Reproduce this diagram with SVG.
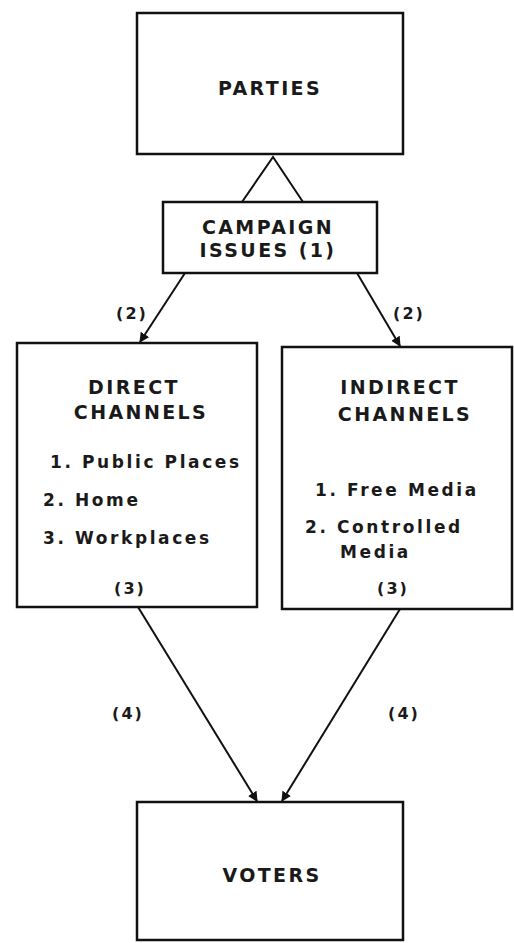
<svg xmlns="http://www.w3.org/2000/svg" width="514" height="943" viewBox="0 0 514 943">
  <style>
    .box { fill: #fff; stroke: #111; stroke-width: 2.5; }
    .edge { fill: none; stroke: #111; stroke-width: 2; }
    .cap { font-family: "DejaVu Sans", "Liberation Sans", sans-serif; font-weight: bold; font-size: 19px; fill: #1a1a1a; letter-spacing: 2.4px; text-anchor: middle; dominant-baseline: central; }
    .item { font-family: "DejaVu Sans", "Liberation Sans", sans-serif; font-weight: bold; font-size: 17px; fill: #1a1a1a; letter-spacing: 2.6px; dominant-baseline: central; }
    .lbl { font-family: "DejaVu Sans", "Liberation Sans", sans-serif; font-weight: bold; font-size: 16px; fill: #1a1a1a; letter-spacing: 2px; text-anchor: middle; dominant-baseline: central; }
  </style>
  <defs>
    <marker id="head" viewBox="0 0 10 10" refX="9" refY="5" markerWidth="10" markerHeight="10" markerUnits="userSpaceOnUse" orient="auto">
      <path d="M0,0 L10,5 L0,10 z" fill="#111"/>
    </marker>
  </defs>

  <g id="connectors">
    <polyline class="edge" points="242,202 273,157 303,202"/>
    <line class="edge" x1="185" y1="273" x2="140" y2="342" marker-end="url(#head)"/>
    <line class="edge" x1="357" y1="273" x2="400" y2="346" marker-end="url(#head)"/>
    <line class="edge" x1="138" y1="607" x2="257" y2="801" marker-end="url(#head)"/>
    <line class="edge" x1="400" y1="609" x2="282" y2="801" marker-end="url(#head)"/>
    <text class="lbl" x="132" y="313">(2)</text>
    <text class="lbl" x="409" y="313">(2)</text>
    <text class="lbl" x="128" y="713">(4)</text>
    <text class="lbl" x="404" y="713">(4)</text>
  </g>

  <g id="parties">
    <rect class="box" x="137" y="13" width="266" height="141"/>
    <text class="cap" x="270" y="88">PARTIES</text>
  </g>

  <g id="campaign-issues">
    <rect class="box" x="163" y="202" width="214" height="71"/>
    <text class="cap" x="268" y="227">CAMPAIGN</text>
    <text class="cap" x="268" y="250">ISSUES (1)</text>
  </g>

  <g id="direct-channels">
    <rect class="box" x="17" y="343" width="240" height="264"/>
    <text class="cap" x="134" y="387">DIRECT</text>
    <text class="cap" x="141" y="412">CHANNELS</text>
    <text class="item" x="50" y="462">1. Public Places</text>
    <text class="item" x="43" y="500">2. Home</text>
    <text class="item" x="43" y="538">3. Workplaces</text>
    <text class="lbl" x="130" y="588">(3)</text>
  </g>

  <g id="indirect-channels">
    <rect class="box" x="282" y="347" width="230" height="262"/>
    <text class="cap" x="400" y="387">INDIRECT</text>
    <text class="cap" x="405" y="414">CHANNELS</text>
    <text class="item" x="315" y="490">1. Free Media</text>
    <text class="item" x="305" y="527">2. Controlled</text>
    <text class="item" x="340" y="552">Media</text>
    <text class="lbl" x="393" y="588">(3)</text>
  </g>

  <g id="voters">
    <rect class="box" x="137" y="802" width="266" height="138"/>
    <text class="cap" x="272" y="875">VOTERS</text>
  </g>
</svg>
